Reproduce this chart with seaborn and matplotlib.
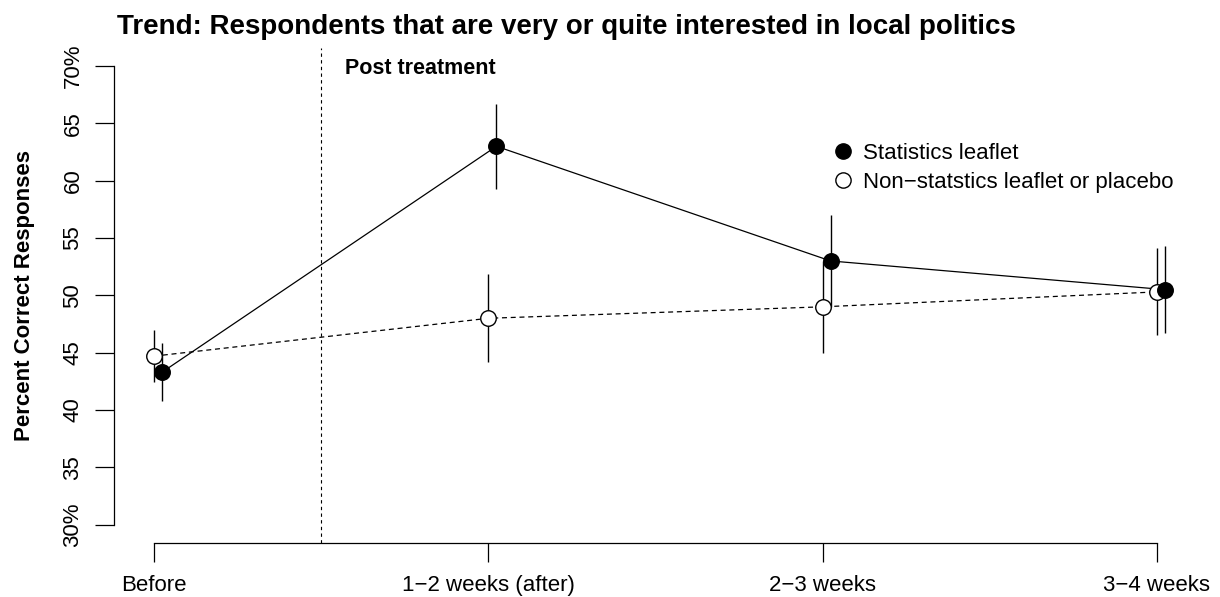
import matplotlib
matplotlib.use("Agg")
import matplotlib.pyplot as plt
from matplotlib.lines import Line2D
import seaborn as sns
import pandas as pd
import numpy as np

# Survey waves and estimated shares (percent) with confidence half-widths
waves = ["Before", "1\u22122 weeks (after)", "2\u22123 weeks", "3\u22124 weeks"]
stats_pct = [43.3, 63.0, 53.0, 50.5]
stats_err = [2.55, 3.7, 4.0, 3.8]
other_pct = [44.7, 48.0, 49.0, 50.3]
other_err = [2.25, 3.85, 4.0, 3.8]
y_ticks = [30, 35, 40, 45, 50, 55, 60, 65, 70]
y_tick_labels = ["30%", "35", "40", "45", "50", "55", "60", "65", "70%"]

sns.set_style("white")
plt.rcParams["font.family"] = ["Liberation Sans", "DejaVu Sans"]
plt.rcParams.update({
    "text.color": "black",
    "axes.labelcolor": "black",
    "xtick.color": "black",
    "ytick.color": "black",
})

pos = np.arange(1, len(waves) + 1, dtype=float)
shift = 0.024
df_stats = pd.DataFrame({"x": pos + shift, "y": stats_pct, "e": stats_err})
df_other = pd.DataFrame({"x": pos, "y": other_pct, "e": other_err})

fig = plt.figure(figsize=(12.2, 5.97), dpi=100)
ax = fig.add_axes([114 / 1220, 1 - 543 / 597, (1197 - 114) / 1220, (543 - 47.7) / 597])

# error bars
ax.vlines(df_other["x"], df_other["y"] - df_other["e"], df_other["y"] + df_other["e"],
          color="black", lw=1.0, zorder=1)
ax.vlines(df_stats["x"], df_stats["y"] - df_stats["e"], df_stats["y"] + df_stats["e"],
          color="black", lw=1.0, zorder=1)

# connecting lines
sns.lineplot(data=df_other, x="x", y="y", ax=ax, color="black", lw=0.9,
             linestyle=(0, (4, 3)), sort=False, zorder=2)
sns.lineplot(data=df_stats, x="x", y="y", ax=ax, color="black", lw=0.9,
             sort=False, zorder=2)

# markers
sns.scatterplot(data=df_other, x="x", y="y", ax=ax, s=125, color="white",
                edgecolor="black", linewidth=1.0, zorder=3)
sns.scatterplot(data=df_stats, x="x", y="y", ax=ax, s=125, color="black",
                edgecolor="black", linewidth=1.0, zorder=4)

# treatment divider
ax.axvline(1.5, color="black", lw=0.8, linestyle=(0, (3, 3)), zorder=0)
ax.text(1.571, 69.3, "Post treatment", fontsize=15.5, fontweight="bold",
        ha="left", va="baseline", color="black")

ax.set_xlim(0.88, 4.12)
ax.set_ylim(28.4, 71.6)

for side in ["top", "right"]:
    ax.spines[side].set_visible(False)
ax.spines["left"].set_bounds(30, 70)
ax.spines["bottom"].set_bounds(1, 4)
for side in ["left", "bottom"]:
    ax.spines[side].set_color("black")
    ax.spines[side].set_linewidth(0.9)

ax.set_xticks(pos)
ax.set_xticklabels(waves, fontsize=16)
ax.set_yticks(y_ticks)
ax.set_yticklabels(y_tick_labels, fontsize=16, rotation=90, va="center")
ax.tick_params(axis="both", which="both", direction="out", length=14, width=0.9,
               color="black", labelcolor="black", left=True, bottom=True, pad=9)
ax.tick_params(axis="y", pad=8)
ax.set_xlabel("")
ax.set_ylabel("Percent Correct Responses", fontsize=16, fontweight="bold",
              color="black")
ax.yaxis.set_label_coords(-0.073, 0.5)

handles = [
    Line2D([], [], marker="o", linestyle="none", markersize=11,
           markerfacecolor="black", markeredgecolor="black"),
    Line2D([], [], marker="o", linestyle="none", markersize=11,
           markerfacecolor="white", markeredgecolor="black"),
]
leg = ax.legend(handles, ["Statistics leaflet", "Non\u2212statstics leaflet or placebo"],
                loc="upper left", bbox_to_anchor=(0.653, 0.826), frameon=False,
                fontsize=16, handletextpad=0.3, labelspacing=0.36, borderaxespad=0,
                handlelength=1.2)
for t in leg.get_texts():
    t.set_color("black")

fig.text(566 / 1220, 1 - 33.5 / 597,
         "Trend: Respondents that are very or quite interested in local politics",
         fontsize=20, fontweight="bold", ha="center", va="baseline", color="black")

fig.savefig("out.png", dpi=100)
